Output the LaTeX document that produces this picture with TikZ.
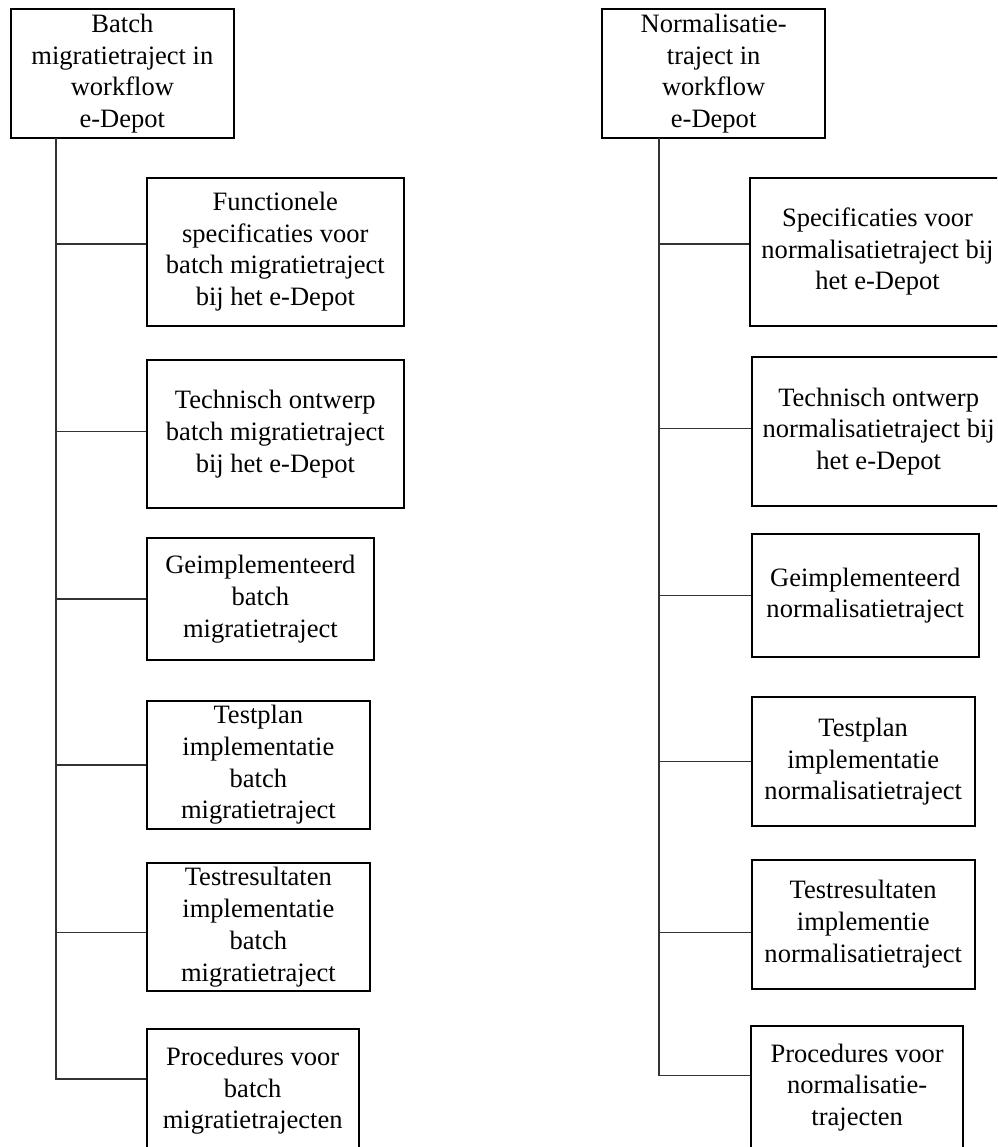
\documentclass[tikz,border=0pt]{standalone}
\usepackage{fontspec}
\setmainfont{Liberation Serif}
\begin{document}
\begin{tikzpicture}[x=0.75pt,y=-0.75pt,
  box/.style={draw=black, line width=1.4pt, align=center, inner sep=0pt,
    font=\fontsize{19.9pt}{23.8pt}\selectfont},
  conn/.style={draw=black!80, line width=0.8pt}]
\useasboundingbox (0,0) rectangle (997,1147);
\clip (0,0) rectangle (997,1147);
% left column
\node[box, minimum width=167.5pt, minimum height=96.5pt] (ltop) at (122.35,73.65) {Batch\\migratietraject in\\workflow\\e-Depot};
\node[box, minimum width=193pt, minimum height=111pt] (l1) at (275.35,251.7) {Functionele\\specificaties voor\\batch migratietraject\\bij het e-Depot};
\node[box, minimum width=193pt, minimum height=111.2pt] (l2) at (275.35,434.15) {Technisch ontwerp\\batch migratietraject\\bij het e-Depot};
\node[box, minimum width=170.5pt, minimum height=91.5pt] (l3) at (260.35,599) {Geimplementeerd\\batch\\migratietraject};
\node[box, minimum width=167.5pt, minimum height=96.5pt] (l4) at (258.35,765) {Testplan\\implementatie\\batch\\migratietraject};
\node[box, minimum width=167.5pt, minimum height=96.2pt] (l5) at (258.35,927.15) {Testresultaten\\implementatie\\batch\\migratietraject};
\node[box, minimum width=159pt, minimum height=92pt] (l6) at (252.7,1090.65) {Procedures voor\\batch\\migratietrajecten};
\coordinate (lspine) at (56,138);
% right column
\node[box, minimum width=167.5pt, minimum height=96.5pt] (rtop) at (713.65,73.65) {Normalisatie-\\traject in\\workflow\\e-Depot};
\node[box, minimum width=191.7pt, minimum height=111pt] (r1) at (877.5,251.7) {Specificaties voor\\normalisatietraject bij\\het e-Depot};
\node[box, minimum width=190.5pt, minimum height=111.3pt] (r2) at (878.7,431.5) {Technisch ontwerp\\normalisatietraject bij\\het e-Depot};
\node[box, minimum width=170.25pt, minimum height=91.8pt] (r3) at (865.2,595.5) {Geimplementeerd\\normalisatietraject};
\node[box, minimum width=167.25pt, minimum height=96.5pt] (r4) at (863.2,761.65) {Testplan\\implementatie\\normalisatietraject};
\node[box, minimum width=167.25pt, minimum height=96.75pt] (r5) at (863.2,924.2) {Testresultaten\\implementie\\normalisatietraject};
\node[box, minimum width=159.2pt, minimum height=92.25pt] (r6) at (857.15,1087.5) {Procedures voor\\normalisatie-\\trajecten};
\coordinate (rspine) at (659,138);
% connectors left
\draw[conn] (lspine) -- ([yshift=8.74pt]lspine |- l6.west) -- ([yshift=8.74pt]l6.west);
\draw[conn] ([yshift=5.8pt]lspine |- l1.west) -- ([yshift=5.8pt]l1.west);
\draw[conn] ([yshift=1.8pt]lspine |- l2.west) -- ([yshift=1.8pt]l2.west);
\draw[conn] (lspine |- l3.west) -- (l3.west);
\draw[conn] (lspine |- l4.west) -- (l4.west);
\draw[conn] ([yshift=-3.9pt]lspine |- l5.west) -- ([yshift=-3.9pt]l5.west);
% connectors right
\draw[conn] (rspine) -- ([yshift=8.85pt]rspine |- r6.west) -- ([yshift=8.85pt]r6.west);
\draw[conn] ([yshift=5.8pt]rspine |- r1.west) -- ([yshift=5.8pt]r1.west);
\draw[conn] ([yshift=2.1pt]rspine |- r2.west) -- ([yshift=2.1pt]r2.west);
\draw[conn] (rspine |- r3.west) -- (r3.west);
\draw[conn] (rspine |- r4.west) -- (r4.west);
\draw[conn] ([yshift=-6pt]rspine |- r5.west) -- ([yshift=-6pt]r5.west);
\end{tikzpicture}
\end{document}
